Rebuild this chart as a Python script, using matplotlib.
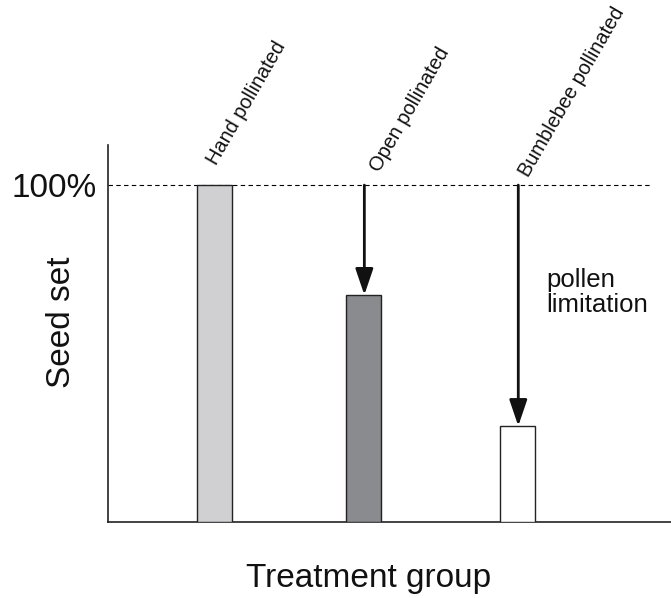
import matplotlib
matplotlib.use("Agg")
import matplotlib.pyplot as plt

plt.rcParams['font.family'] = ['Liberation Sans', 'DejaVu Sans']

groups = ["Hand pollinated", "Open pollinated", "Bumblebee pollinated"]
seed_set = [100, 67.4, 28.5]
bar_colors = ["#d0d0d2", "#8a8b8e", "#ffffff"]
x = [1, 1.984, 3]  # bars aren't quite evenly spaced in the original

# where each rotated group label starts (data coords), placed by hand
label_pos = [(1.036, 105), (2.112, 103), (3.096, 101.5)]

fig = plt.figure(figsize=(6.71, 5.98), dpi=100)
ax = fig.add_axes([108/671, 76/598, 563/671, 377/598])

ax.bar(x, seed_set, width=0.231, color=bar_colors, edgecolor="#222222", linewidth=1.0, zorder=3)

# reference line at 100%
ax.plot([0.297, 3.875], [100, 100], color="black", lw=0.8, dashes=(4, 3), zorder=2)

# arrows showing pollen limitation
for xi, v in zip(x[1:], seed_set[1:]):
    ax.annotate("", xy=(xi + 0.005, v), xytext=(xi + 0.005, 100),
                arrowprops=dict(arrowstyle="-|>,head_length=1.0,head_width=0.34",
                                mutation_scale=16, lw=2, color="#111111",
                                shrinkA=0, shrinkB=0), zorder=4)

for (lx, ly), name in zip(label_pos, groups):
    ax.text(lx, ly, name, rotation=60, rotation_mode="anchor",
            ha="left", va="bottom", fontsize=14.4, color="#111111")

ax.text(3.188, 75.5, "pollen\nlimitation", ha="left", va="top", fontsize=18.5,
        linespacing=1.05, color="#111111")

ax.set_xlim(0.297, 4.013)
ax.set_ylim(0, 111.9)
ax.set_xticks([])
ax.set_yticks([100], ["100%"])
ax.tick_params(axis="y", length=0, pad=8, labelsize=24, labelcolor="#111111")
for s in ["top", "right"]:
    ax.spines[s].set_visible(False)
for s in ["left", "bottom"]:
    ax.spines[s].set_linewidth(1.2)
    ax.spines[s].set_color("#222222")

fig.text(70/671, 1 - 322/598, "Seed set", rotation=90, rotation_mode="anchor",
         ha="center", va="baseline", fontsize=24, color="#111111")
fig.text(369/671, 11/598, "Treatment group", ha="center", va="baseline",
         fontsize=24, color="#111111")

fig.savefig("out.png", dpi=100)
